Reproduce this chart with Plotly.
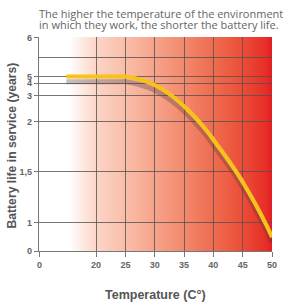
import base64, struct, zlib
import numpy as np
import plotly.graph_objects as go

# ---------------- data ----------------
temperature_c = [9.5, 15, 20, 23.8, 25, 27, 29, 30.5, 32, 34, 35.5, 37, 39, 40.5, 42, 44, 45.5, 47, 49, 50]
battery_life_years = [5, 5, 5, 5, 5, 4.65, 4.09, 3.72, 3.29, 2.79, 2.48, 2.14, 1.90, 1.78, 1.66, 1.49, 1.35, 1.20, 0.93, 0.49]

x_tick_values = [0, 20, 25, 30, 35, 40, 45, 50]
x_tick_labels = ["0", "20", "25", "30", "35", "40", "45", "50"]
y_tick_values = [0, 1, 1.5, 2, 3, 4, 5, 6]
y_tick_labels = ["0", "1", "1,5", "2", "3", "4", "5", "6"]

# the chart's own (piecewise linear) scales: value -> axis position
X_SCALE_VAL = [0, 20, 50]
X_SCALE_POS = [0, 58, 238]
Y_SCALE_VAL = [0, 1, 1.5, 2, 3, 4, 5, 6]
Y_SCALE_POS = [0, 28.3, 79.3, 129.3, 155.5, 168, 174.5, 213.5]
Y_EXTRA_GRID = [194]

def sx(v):
    return np.interp(v, X_SCALE_VAL, X_SCALE_POS)

def sy(v):
    return np.interp(v, Y_SCALE_VAL, Y_SCALE_POS)

X_RANGE = [-0.4, 238]
Y_RANGE = [0, 214]

# ---------------- background gradient (png) ----------------
grad_pos = [0, 31, 58, 88, 118, 148, 178, 208, 231, 238]
grad_rgb = [(255, 255, 255), (255, 255, 255), (252, 213, 199), (249, 190, 170), (246, 164, 138),
            (243, 137, 108), (239, 108, 80), (235, 78, 56), (231, 48, 40), (227, 30, 36)]

def make_png(width):
    xs = np.arange(width) + 0.5
    row = bytearray(b"\x00")
    for x in xs:
        for c in range(3):
            row.append(int(round(np.interp(x, grad_pos, [g[c] for g in grad_rgb]))))
    def chunk(t, d):
        return struct.pack(">I", len(d)) + t + d + struct.pack(">I", zlib.crc32(t + d) & 0xffffffff)
    ihdr = struct.pack(">IIBBBBB", width, 1, 8, 2, 0, 0, 0)
    data = b"\x89PNG\r\n\x1a\n" + chunk(b"IHDR", ihdr) + chunk(b"IDAT", zlib.compress(bytes(row))) + chunk(b"IEND", b"")
    return "data:image/png;base64," + base64.b64encode(data).decode()

png = make_png(238)

FONT = "Liberation Sans, Arial, sans-serif"
TOP_FONT = "Open Sans, Liberation Sans, Arial, sans-serif"
GRID = "rgba(85,80,80,0.8)"

xp = sx(temperature_c)
yp = sy(battery_life_years)

fig = go.Figure()
# shadow
fig.add_trace(go.Scatter(x=xp, y=yp - 5.2, mode="lines",
                         line=dict(color="rgba(70,60,65,0.32)", width=5, shape="spline"),
                         hoverinfo="skip", showlegend=False))
# curve
fig.add_trace(go.Scatter(x=xp, y=yp, mode="lines",
                         line=dict(color="#f8c21d", width=4.2, shape="spline"),
                         showlegend=False))

fig.add_layout_image(dict(source=png, xref="x", yref="y", x=0, y=Y_RANGE[1],
                          sizex=238, sizey=Y_RANGE[1], sizing="stretch",
                          xanchor="left", yanchor="top", layer="below"))

fig.update_xaxes(range=X_RANGE, tickmode="array", tickvals=sx(x_tick_values), ticktext=x_tick_labels,
                 showgrid=True, gridcolor=GRID, gridwidth=1, zeroline=False,
                 showline=True, linecolor="#777", linewidth=1.3,
                 ticks="outside", ticklen=5, tickcolor="#777", tickwidth=1,
                 tickfont=dict(family=FONT, size=9, color="#666", weight="bold"))
fig.update_yaxes(range=Y_RANGE, tickmode="array", tickvals=sy(y_tick_values), ticktext=y_tick_labels,
                 showgrid=True, gridcolor=GRID, gridwidth=1, zeroline=False,
                 showline=True, linecolor="#777", linewidth=1.3,
                 ticks="outside", ticklen=4, tickcolor="#777", tickwidth=1,
                 tickfont=dict(family=FONT, size=9, color="#666", weight="bold"),
                 minor=dict(tickmode="array", tickvals=Y_EXTRA_GRID, showgrid=True,
                            gridcolor=GRID, gridwidth=1, ticks=""))

PLOT_H = 214
PLOT_W = 238
fig.add_annotation(text="The higher the temperature of the environment",
                   xref="paper", yref="paper", x=0, y=1 + 23.6 / PLOT_H, xanchor="left", yanchor="middle",
                   xshift=-2, align="left", showarrow=False,
                   font=dict(family=TOP_FONT, size=11, color="#666"))
fig.add_annotation(text="in which they work, the shorter the battery life.",
                   xref="paper", yref="paper", x=0, y=1 + 12.3 / PLOT_H, xanchor="left", yanchor="middle",
                   xshift=-2, align="left", showarrow=False,
                   font=dict(family=TOP_FONT, size=11, color="#666"))
fig.add_annotation(text="Temperature (C°)", xref="paper", yref="paper", x=0.5, y=-44 / PLOT_H,
                   xanchor="center", yanchor="middle", showarrow=False,
                   font=dict(family=FONT, size=12.5, color="#555", weight="bold"))
fig.add_annotation(text="Battery life in service (years)", xref="paper", yref="paper",
                   x=(11 - 39) / PLOT_W, y=(251 - 146) / PLOT_H, xanchor="center", yanchor="middle",
                   textangle=-90, showarrow=False,
                   font=dict(family=FONT, size=12.2, color="#555", weight="bold"))

fig.update_layout(width=288, height=304, margin=dict(l=39, r=11, t=37, b=53),
                  paper_bgcolor="white", plot_bgcolor="white", showlegend=False)

# remove the default 8px page margin so the figure fills the window exactly
fig.write_html("out.html", config={"displayModeBar": False},
               post_script="document.body.style.margin='0';")
